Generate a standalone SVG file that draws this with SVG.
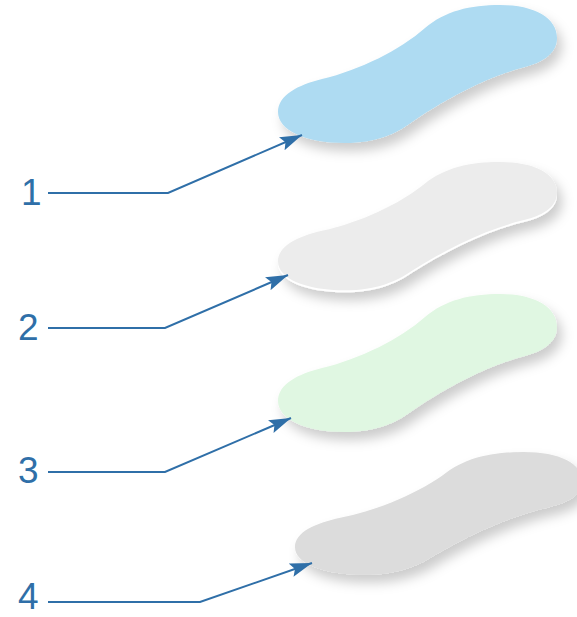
<svg xmlns="http://www.w3.org/2000/svg" width="577" height="617" viewBox="0 0 577 617">
  <style>
    .lbl { font-family: "Liberation Sans", Arial, sans-serif; font-size: 37px; fill: #2F6FA8; }
    .conn { fill: none; stroke: #2F6FA8; stroke-width: 2; marker-end: url(#arrow); }
  </style>
  <defs>
    <path id="pad" d="M 278,112 C 278,95 298,85 322,79 C 360,70 400,50 425,28 C 445,11 470,5 500,5 C 535,5 557,18 557,38 C 557,55 540,63 525,67 C 490,76 450,96 412,122 C 396,134 376,143 345,143 C 305,143 278,130 278,112 Z"/>
    <filter id="shadow" x="-20%" y="-30%" width="150%" height="170%">
      <feDropShadow dx="5" dy="8" stdDeviation="6" flood-color="#000" flood-opacity="0.2"/>
    </filter>
    <marker id="arrow" markerUnits="userSpaceOnUse" markerWidth="24" markerHeight="16" refX="22" refY="7" orient="auto">
      <path d="M 0,0 L 22,7 L 0,14 L 4,7 Z" fill="#2F6FA8"/>
    </marker>
  </defs>

  <g id="pad1" filter="url(#shadow)">
    <use href="#pad" fill="#AEDBF2"/>
  </g>
  <g id="pad2" filter="url(#shadow)">
    <use href="#pad" fill="#FFFFFF" transform="translate(0,159) translate(278,5) scale(1,0.93) translate(-278,-5)"/>
    <use href="#pad" fill="#ECECEC" transform="translate(0,157) translate(278,5) scale(1,0.93) translate(-278,-5)"/>
  </g>
  <g id="pad3" filter="url(#shadow)">
    <use href="#pad" fill="#E0F7E2" transform="translate(0,289)"/>
  </g>
  <g id="pad4" filter="url(#shadow)">
    <use href="#pad" fill="#DCDCDC" transform="translate(295,452) scale(1.03,0.89) translate(-278,-5)"/>
  </g>

  <g id="labels">
    <text class="lbl" x="21" y="205">1</text>
    <text class="lbl" x="18" y="340">2</text>
    <text class="lbl" x="18" y="483">3</text>
    <text class="lbl" x="18" y="609">4</text>
  </g>

  <g id="connectors">
    <polyline class="conn" points="48,193 168,193 302,135"/>
    <polyline class="conn" points="48,328 165,328 288,275"/>
    <polyline class="conn" points="48,472 165,472 291,418"/>
    <polyline class="conn" points="48,602 200,602 312,563"/>
  </g>
</svg>
